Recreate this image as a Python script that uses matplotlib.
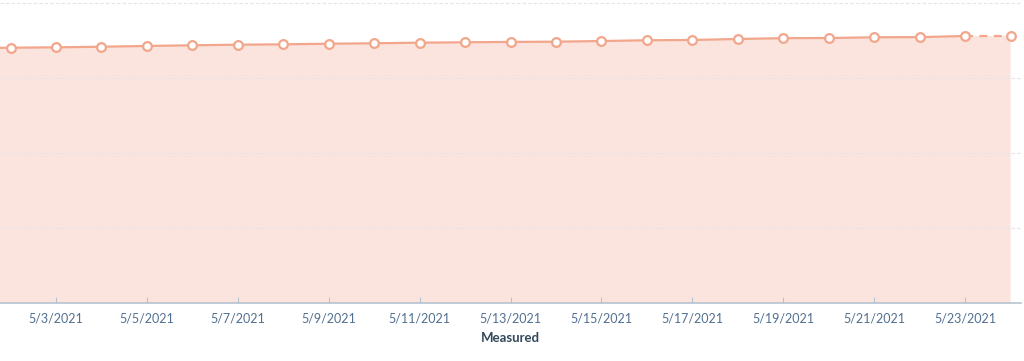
import numpy as np
import pandas as pd
import matplotlib
matplotlib.use("Agg")
import matplotlib.pyplot as plt
import matplotlib.dates as mdates

# ---- du lieu ----
dates = pd.date_range("2021-05-01", "2021-05-24", freq="D")
values = [3.402, 3.408, 3.413, 3.421, 3.431, 3.440, 3.448, 3.453, 3.461, 3.467,
          3.475, 3.480, 3.485, 3.488, 3.497, 3.507, 3.511, 3.524, 3.535,
          3.537, 3.547, 3.549, 3.564, 3.563]
tick_dates = pd.date_range("2021-05-03", "2021-05-23", freq="2D")
x_label = "Measured"

line_col = "#f2a68c"
fill_col = "#fbe4de"
text_col = "#516f90"

plt.rcParams["font.family"] = ["Lato", "DejaVu Sans"]

fig = plt.figure(figsize=(10.24, 3.61), dpi=100)
ax = fig.add_axes([0.0, 57.7 / 361, 1021 / 1024, 1 - 57.7 / 361])

x = mdates.date2num(dates)
ax.fill_between(x, 0, values, color=fill_col, lw=0, zorder=1)
# duong lien, doan cuoi net dut
ax.plot(x[:-1], values[:-1], color=line_col, lw=1.6, zorder=3)
ax.plot(x[-2:], values[-2:], color=line_col, lw=1.6, ls=(0, (3.5, 3)), zorder=3)
ax.plot(x, values, ls="none", marker="o", ms=6.3, mfc="white", mec=line_col,
        mew=1.6, zorder=4)

ax.set_xlim(x[1] - 0.232, x[-1] + 0.23)
ax.set_ylim(0, 4 + 3.3 / 75)
ax.set_yticks([1, 2, 3, 4])
ax.yaxis.grid(True, color="#e1e4e8", ls=(0, (3, 2)), lw=0.8)
ax.set_axisbelow(False)
ax.tick_params(axis="y", left=False, labelleft=False)

ax.set_xticks(mdates.date2num(tick_dates))
ax.set_xticklabels([f"{d.month}/{d.day}/{d.year}" for d in tick_dates])
ax.tick_params(axis="x", direction="in", length=4, width=0.8, color="#b7c3d0",
               labelcolor=text_col, labelsize=9, pad=6.5)
ax.set_xlabel(x_label, fontsize=9.5, fontweight="bold", color="#33475b", labelpad=5.5)

for s in ["top", "right", "left"]:
    ax.spines[s].set_visible(False)
ax.spines["bottom"].set_color("#b7c3d0")
ax.spines["bottom"].set_linewidth(1.2)
ax.spines["bottom"].set_zorder(5)

fig.savefig("out.png", dpi=100)
